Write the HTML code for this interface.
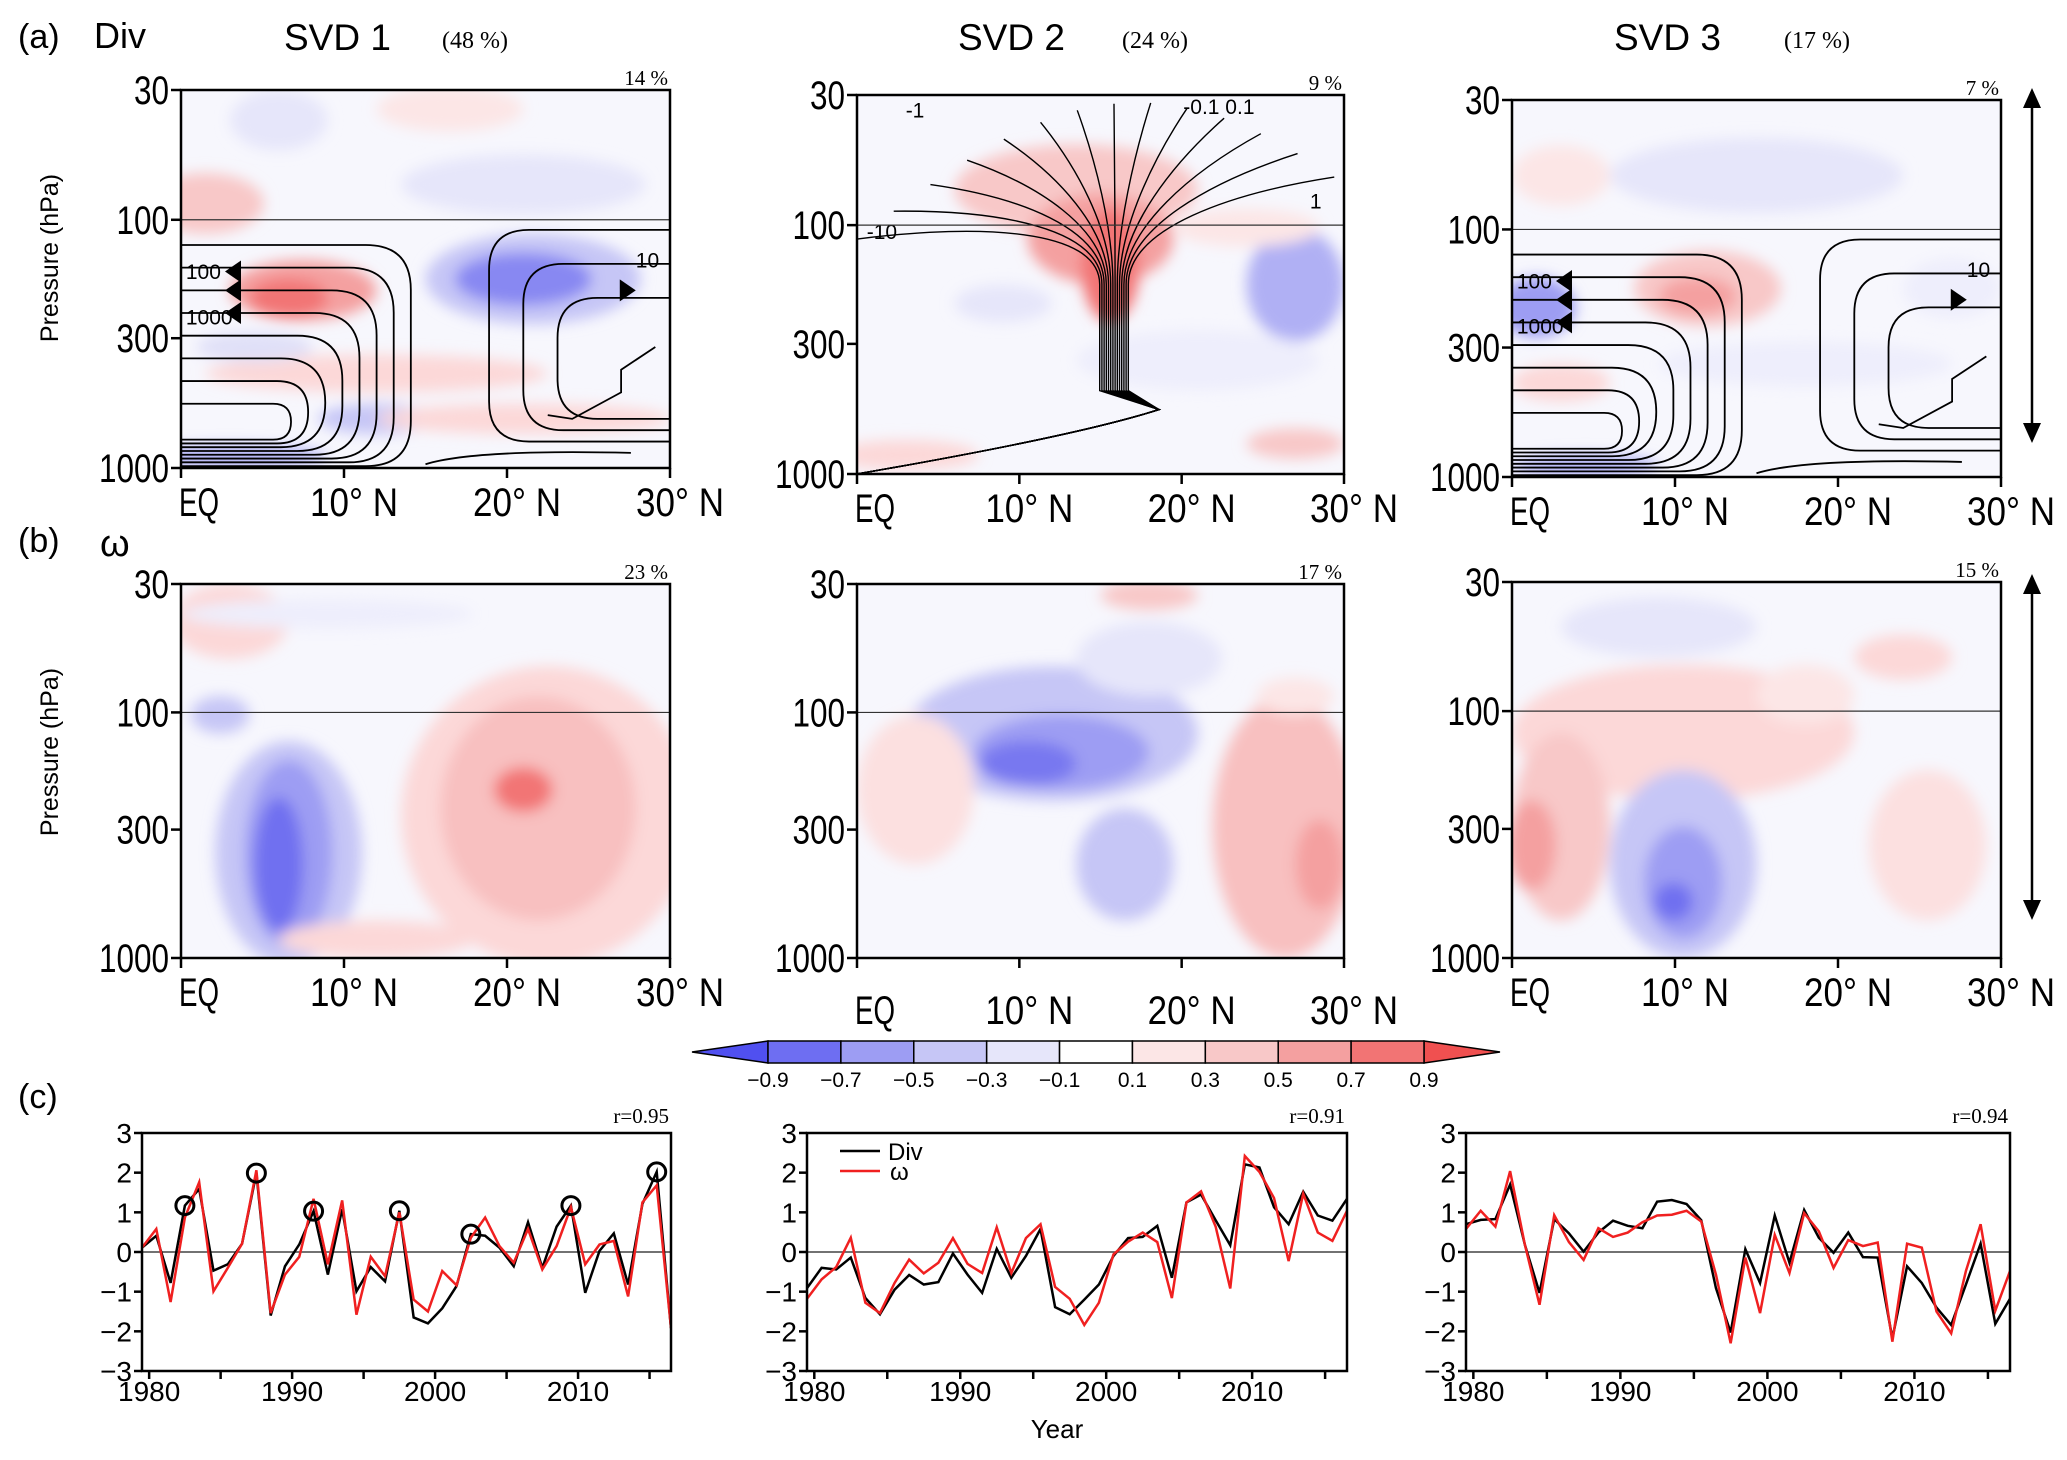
<!DOCTYPE html>
<html><head><meta charset="utf-8"><style>
html,body{margin:0;padding:0;background:#fff;}
svg{display:block;font-family:"Liberation Sans",sans-serif;}
</style></head><body>
<svg id="fig" width="2067" height="1460" viewBox="0 0 2067 1460" xmlns="http://www.w3.org/2000/svg">
<defs>
<filter id="blur" x="-50%" y="-50%" width="200%" height="200%"><feGaussianBlur stdDeviation="7"/></filter>
</defs>
</svg>
<script>
// ---------- time series data (panel c) ----------
const years = [1979,1980,1981,1982,1983,1984,1985,1986,1987,1988,1989,1990,1991,1992,1993,1994,1995,1996,1997,1998,1999,2000,2001,2002,2003,2004,2005,2006,2007,2008,2009,2010,2011,2012,2013,2014,2015,2016];
const div1 = [0.11,0.41,-0.78,1.17,1.59,-0.47,-0.31,0.21,1.99,-1.6,-0.36,0.19,1.03,-0.57,1.08,-0.99,-0.38,-0.74,1.04,-1.65,-1.8,-1.42,-0.86,0.45,0.41,0.11,-0.36,0.75,-0.4,0.64,1.17,-1.03,0.03,0.47,-0.82,1.21,2.02,-1.92];
const omg1 = [0.11,0.58,-1.26,0.87,1.76,-0.99,-0.4,0.21,2.06,-1.54,-0.57,-0.12,1.34,-0.31,1.3,-1.58,-0.12,-0.61,1.0,-1.2,-1.5,-0.48,-0.84,0.36,0.87,0.15,-0.27,0.58,-0.44,0.15,1.13,-0.31,0.19,0.28,-1.12,1.25,1.68,-1.92];
const circles1 = [3,8,12,18,23,30,36];
const div2 = [-0.91,-0.4,-0.44,-0.14,-1.16,-1.57,-0.95,-0.58,-0.82,-0.76,-0.04,-0.57,-1.03,0.08,-0.65,-0.1,0.58,-1.39,-1.57,-1.2,-0.82,-0.1,0.35,0.38,0.66,-0.65,1.25,1.45,0.8,0.17,2.21,2.13,1.13,0.7,1.52,0.92,0.79,1.34];
const omg2 = [-1.18,-0.69,-0.38,0.36,-1.28,-1.54,-0.78,-0.19,-0.54,-0.27,0.35,-0.3,-0.53,0.62,-0.53,0.35,0.7,-0.88,-1.18,-1.84,-1.28,-0.06,0.26,0.49,0.25,-1.16,1.25,1.53,0.64,-0.92,2.42,2.02,1.36,-0.23,1.47,0.49,0.28,1.04];
const div3 = [0.7,0.81,0.83,1.7,0.19,-1.03,0.83,0.47,0.01,0.49,0.79,0.66,0.6,1.27,1.31,1.21,0.8,-0.91,-2.03,0.07,-0.78,0.92,-0.27,1.06,0.36,-0.02,0.49,-0.13,-0.14,-2.18,-0.36,-0.78,-1.4,-1.84,-0.82,0.21,-1.81,-1.18];
const omg3 = [0.58,1.04,0.64,2.04,0.19,-1.33,0.93,0.25,-0.2,0.6,0.38,0.49,0.75,0.92,0.94,1.04,0.77,-0.57,-2.3,-0.14,-1.54,0.43,-0.53,0.98,0.52,-0.4,0.3,0.15,0.24,-2.26,0.21,0.11,-1.5,-2.05,-0.48,0.7,-1.48,-0.48];
const yTicks = [-3,-2,-1,0,1,2,3];
const xTickYears = [1980,1990,2000,2010];
const rValues = ["r=0.95","r=0.91","r=0.94"];
// ---------- colour bar ----------
const cbLevels = ["-0.9","-0.7","-0.5","-0.3","-0.1","0.1","0.3","0.5","0.7","0.9"];
const cbColors = ["#6e6ef2","#9d9df3","#c6c6f6","#e6e6fa","#ffffff","#fce6e6","#f8c8c8","#f4a0a0","#f27474"];
// ---------- contour panel labels ----------
const pTicks = [30,100,300,1000];
const latTicks = ["EQ","10° N","20° N","30° N"];
const pctA = ["14  %","9  %","7  %"];
const pctB = ["23  %","17  %","15  %"];

const svg = document.getElementById('fig');
const NS = "http://www.w3.org/2000/svg";
function el(tag, attrs, parent){const e=document.createElementNS(NS,tag);for(const k in attrs)e.setAttribute(k,attrs[k]);(parent||svg).appendChild(e);return e;}
function txt(s, attrs, parent){const e=el('text',attrs,parent);e.textContent=s;return e;}
function bigTxt(s, attrs, parent){const a=Object.assign({'font-size':40,textLength:s.length*17.5,lengthAdjust:'spacingAndGlyphs'},attrs);return txt(s,a,parent);}

// ---------- panel geometry ----------
const colX = [[181,670],[857,1344],[1512,2001]];
const rowA = [[90,468],[95,474],[100,477]];
const rowB = [[584,958],[584,958],[582,958]];

// blobs: [fx, fy, rx, ry, color]
const blobs = {
 a0:[[0.05,0.3,0.12,0.08,"#f8c8c8"],[0.7,0.25,0.25,0.08,"#e6e6fa"],[0.25,0.53,0.15,0.08,"#f4a0a0"],[0.22,0.55,0.08,0.05,"#f27474"],[0.72,0.5,0.22,0.12,"#c6c6f6"],[0.7,0.5,0.14,0.07,"#8888f2"],[0.2,0.08,0.1,0.08,"#e6e6fa"],[0.4,0.75,0.35,0.05,"#fcd8d8"],[0.4,0.87,0.12,0.04,"#c6c6f6"],[0.7,0.87,0.3,0.04,"#fcd8d8"],[0.1,0.97,0.2,0.03,"#b0b0f4"],[0.55,0.05,0.15,0.06,"#fce6e6"],[0.15,0.68,0.12,0.04,"#e0e0f8"]],
 a1:[[0.45,0.25,0.25,0.12,"#f8c8c8"],[0.5,0.38,0.15,0.12,"#f4a0a0"],[0.52,0.45,0.06,0.15,"#f27474"],[0.9,0.5,0.1,0.15,"#b0b0f4"],[0.3,0.55,0.1,0.05,"#e6e6fa"],[0.7,0.7,0.25,0.08,"#eeeefc"],[0.1,0.95,0.15,0.04,"#fcd8d8"],[0.9,0.92,0.1,0.04,"#f8c8c8"],[0.8,0.35,0.15,0.05,"#fce6e6"]],
 a2:[[0.05,0.55,0.08,0.08,"#9d9df3"],[0.4,0.5,0.15,0.1,"#f8c8c8"],[0.38,0.52,0.08,0.05,"#f4a0a0"],[0.5,0.2,0.3,0.1,"#e6e6fa"],[0.1,0.2,0.1,0.08,"#fce6e6"],[0.6,0.7,0.3,0.06,"#eeeefc"],[0.1,0.75,0.1,0.05,"#fcd8d8"],[0.15,0.97,0.15,0.03,"#b0b0f4"],[0.9,0.5,0.1,0.08,"#eeeefc"]],
 b0:[[0.1,0.1,0.12,0.1,"#fcd8d8"],[0.08,0.35,0.06,0.05,"#c6c6f6"],[0.22,0.72,0.15,0.3,"#c6c6f6"],[0.22,0.72,0.09,0.25,"#9d9df3"],[0.2,0.75,0.05,0.18,"#7070f0"],[0.75,0.62,0.3,0.4,"#fcd8d8"],[0.73,0.6,0.2,0.3,"#f8c0c0"],[0.7,0.55,0.06,0.06,"#f27474"],[0.4,0.95,0.2,0.05,"#fcd8d8"],[0.3,0.08,0.3,0.04,"#eeeefc"]],
 b1:[[0.4,0.4,0.3,0.18,"#c6c6f6"],[0.42,0.45,0.18,0.1,"#9d9df3"],[0.35,0.48,0.1,0.06,"#7878f0"],[0.55,0.75,0.1,0.15,"#c6c6f6"],[0.6,0.2,0.15,0.1,"#e6e6fa"],[0.88,0.65,0.15,0.35,"#f8c0c0"],[0.95,0.75,0.05,0.12,"#f4a0a0"],[0.12,0.55,0.12,0.2,"#fce0e0"],[0.6,0.03,0.1,0.04,"#f8c8c8"],[0.9,0.3,0.08,0.05,"#fce6e6"]],
 b2:[[0.35,0.4,0.35,0.18,"#fcd8d8"],[0.1,0.65,0.1,0.25,"#f8c8c8"],[0.04,0.7,0.05,0.12,"#f4a0a0"],[0.35,0.75,0.15,0.25,"#c6c6f6"],[0.35,0.8,0.08,0.15,"#9d9df3"],[0.33,0.85,0.04,0.05,"#7070f0"],[0.3,0.12,0.2,0.08,"#e6e6fa"],[0.85,0.7,0.12,0.2,"#fce0e0"],[0.8,0.2,0.1,0.06,"#fcd8d8"],[0.6,0.3,0.1,0.08,"#fce6e6"]]
};

function contourPanel(ci, ri, key, pct, streams){
 const [L,R] = colX[ci]; const [T,B] = ri===0?rowA[ci]:rowB[ci];
 const W=R-L, H=B-T;
 const g = el('g',{});
 
 
 const cid='clip'+key;
 const cp=el('clipPath',{id:cid},g); el('rect',{x:L,y:T,width:W,height:H},cp);
 const fill=el('g',{'clip-path':'url(#'+cid+')'},g);
 el('rect',{x:L,y:T,width:W,height:H,fill:'#f7f7fd'},fill);
 const bg=el('g',{filter:'url(#blur)'},fill);
 for(const b of blobs[key]){
   const e=el('ellipse',{cx:L+b[0]*W,cy:T+b[1]*H,rx:b[2]*W,ry:b[3]*H,fill:b[4]},bg);
   
   
 }
 const yP = p => T + Math.log(p/30)/Math.log(1000/30)*H;
 el('line',{x1:L,x2:R,y1:yP(100),y2:yP(100),stroke:'#333','stroke-width':1.2},g);
 if(streams) streams(fill,L,T,W,H);
 el('rect',{x:L,y:T,width:W,height:H,fill:'none',stroke:'#000','stroke-width':2.5},g);
 for(const p of pTicks){
   el('line',{x1:L-10,x2:L,y1:yP(p),y2:yP(p),stroke:'#000','stroke-width':2.5},g);
   const s=String(p);
   const t=bigTxt(s,{x:L-12-s.length*17.5,y:yP(p)+14},g);
   
   
 }
 const ly = (ri===1&&ci===1)?B+66:B+48;
 latTicks.forEach((s,i)=>{
   const x=L+i*W/3;
   el('line',{x1:x,x2:x,y1:B,y2:B+10,stroke:'#000','stroke-width':2.5},g);
   const tl = s.length===2?40:88;
   const t=bigTxt(s,{x:i===0?x-2:x-tl/2+10,y:ly,textLength:tl},g);
   
   
 });
 const pt=txt(pct,{x:R-2,y:T-5,'text-anchor':'end','font-size':21,'font-family':'Liberation Serif, serif'},g);
 
 
}

function cellStreams(fill,L,T,W,H){
 const g=el('g',{fill:'none',stroke:'#000','stroke-width':1.8},fill);
 for(let k=0;k<8;k++){
   const y0=T+H*(0.41+k*0.06), xr=L+W*(0.47-k*0.035), yb=T+H*(0.995-k*0.01);
   const r=Math.min(45,(yb-y0)/2);
   el('path',{d:`M${L},${y0} L${xr-r},${y0} Q${xr},${y0} ${xr},${y0+r} L${xr},${yb-r} Q${xr},${yb} ${xr-r},${yb} L${L},${yb}`},g);
 }
 for(let k=0;k<3;k++){
   const y0=T+H*(0.37+k*0.09), xl=L+W*(0.63+k*0.07), yb=T+H*(0.93-k*0.03);
   const r=40;
   el('path',{d:`M${L+W},${y0} L${xl+r},${y0} Q${xl},${y0} ${xl},${y0+r} L${xl},${yb-r} Q${xl},${yb} ${xl+r},${yb} L${L+W},${yb}`},g);
 }
 el('path',{d:`M${L+W*0.97},${T+H*0.68} L${L+W*0.9},${T+H*0.74} L${L+W*0.9},${T+H*0.8} L${L+W*0.8},${T+H*0.87} L${L+W*0.75},${T+H*0.86}`},g);
 el('path',{d:`M${L+W*0.5},${T+H*0.99} Q${L+W*0.6},${T+H*0.95} ${L+W*0.92},${T+H*0.96}`},g);
 [0.48,0.53,0.59].forEach(a=>{
   el('path',{d:`M${L+W*0.09},${T+H*a} l16,-11 l0,22 z`,fill:'#000',stroke:'none'},fill);
 });
 el('path',{d:`M${L+W*0.93},${T+H*0.53} l-16,-11 l0,22 z`,fill:'#000',stroke:'none'},fill);
 txt('100',{x:L+W*0.01,y:T+H*0.5,'font-size':21},fill);
 txt('1000',{x:L+W*0.01,y:T+H*0.62,'font-size':21},fill);
 txt('10',{x:L+W*0.93,y:T+H*0.47,'font-size':21},fill);
}
function fanStreams(fill,L,T,W,H){
 const g=el('g',{fill:'none',stroke:'#000','stroke-width':1.4},fill);
 const cx=L+W*0.53;
 for(let k=0;k<14;k++){
   const f=k/13;
   const ex=L+W*(0.0+f*0.98), ey=T+H*(0.38-0.36*Math.sin(f*Math.PI*0.85));
   const sx=cx+(k-7)*2.2;
   el('path',{d:`M${L},${T+H} Q${L+W*0.45},${T+H*0.9} ${L+W*0.62},${T+H*0.83} L${sx},${T+H*0.78} L${sx},${T+H*0.5} C${sx},${T+H*0.35} ${(sx+ex)/2},${(T+H*0.3+ey)/2} ${ex},${ey}`},g);
 }
 txt('-1',{x:L+W*0.1,y:T+H*0.06,'font-size':21},fill);
 txt('-0.1 0.1',{x:L+W*0.67,y:T+H*0.05,'font-size':21},fill);
 txt('-10',{x:L+W*0.02,y:T+H*0.38,'font-size':21},fill);
 txt('1',{x:L+W*0.93,y:T+H*0.3,'font-size':21},fill);
}

contourPanel(0,0,'a0',pctA[0],cellStreams);
contourPanel(1,0,'a1',pctA[1],fanStreams);
contourPanel(2,0,'a2',pctA[2],cellStreams);
contourPanel(0,1,'b0',pctB[0]);
contourPanel(1,1,'b1',pctB[1]);
contourPanel(2,1,'b2',pctB[2]);

// titles
function label(s,a,name){const t=txt(s,a);return t;}
label('(a)',{x:18,y:48,'font-size':34},'panel-a-label');
label('Div',{x:94,y:48,'font-size':36},'div-row-label');
label('(b)',{x:18,y:552,'font-size':34},'panel-b-label');
label('ω',{x:100,y:556,'font-size':38},'omega-row-label');
label('(c)',{x:18,y:1108,'font-size':34},'panel-c-label');
label('SVD 1',{x:284,y:50,'font-size':37},'svd1-title');
label('(48  %)',{x:442,y:48,'font-size':24,'font-family':'Liberation Serif, serif'},'svd1-percent');
label('SVD 2',{x:958,y:50,'font-size':37},'svd2-title');
label('(24  %)',{x:1122,y:48,'font-size':24,'font-family':'Liberation Serif, serif'},'svd2-percent');
label('SVD 3',{x:1614,y:50,'font-size':37},'svd3-title');
label('(17  %)',{x:1784,y:48,'font-size':24,'font-family':'Liberation Serif, serif'},'svd3-percent');
label('Pressure (hPa)',{x:0,y:0,'font-size':25,transform:'translate(58,258) rotate(-90)','text-anchor':'middle'},'y-axis-title-a');
label('Pressure (hPa)',{x:0,y:0,'font-size':25,transform:'translate(58,752) rotate(-90)','text-anchor':'middle'},'y-axis-title-b');

// double arrows
function dArrow(y1,y2,name){
 const g=el('g',{});
 el('line',{x1:2032,x2:2032,y1:y1+12,y2:y2-12,stroke:'#000','stroke-width':2.5},g);
 el('path',{d:`M2032,${y1} l-9,20 l18,0 z`,fill:'#000'},g);
 el('path',{d:`M2032,${y2} l-9,-20 l18,0 z`,fill:'#000'},g);
}
dArrow(88,443,'height-range-arrow-a');
dArrow(574,920,'height-range-arrow-b');

// colour bar
(function(){
 const g=el('g',{});
 const x0=768,x1=1424,y0=1041,y1=1063,step=(x1-x0)/(cbLevels.length-1);
 el('path',{d:`M${x0},${y0} L${x0-76},${(y0+y1)/2} L${x0},${y1} z`,fill:'#5050f0',stroke:'#000','stroke-width':1.5},g);
 el('path',{d:`M${x1},${y0} L${x1+76},${(y0+y1)/2} L${x1},${y1} z`,fill:'#f05050',stroke:'#000','stroke-width':1.5},g);
 cbColors.forEach((c,i)=>{
   const r=el('rect',{x:x0+i*step,y:y0,width:step,height:y1-y0,fill:c,stroke:'#000','stroke-width':1.5},g);
   
   
 });
 cbLevels.forEach((s,i)=>{
   const t=txt(s.replace('-','−'),{x:x0+i*step,y:y1+24,'text-anchor':'middle','font-size':21},g);
   
   
 });
})();

// time series
const tsX=[[142,671],[807,1347],[1466,2010]];
const tsT=1133, tsB=1371;
function tsPanel(i,dv,om,circ){
 const [L,R]=tsX[i];
 const g=el('g',{});
 const xs=y=>L+(y-1979)/37*(R-L);
 const xt=y=>L+(y-1979.5)/37*(R-L);
 const ys=v=>tsT+(3-v)/6*(tsB-tsT);
 const cid='tsclip'+i; const cp=el('clipPath',{id:cid},g); el('rect',{x:L,y:tsT,width:R-L,height:tsB-tsT},cp);
 el('line',{x1:L,x2:R,y1:ys(0),y2:ys(0),stroke:'#444','stroke-width':1.5},g);
 const pg=el('g',{'clip-path':'url(#'+cid+')'},g);
 const d1=el('polyline',{points:years.map((y,k)=>xs(y)+','+ys(dv[k])).join(' '),fill:'none',stroke:'#000','stroke-width':2.5},pg);
 
 const d2=el('polyline',{points:years.map((y,k)=>xs(y)+','+ys(om[k])).join(' '),fill:'none',stroke:'#f02020','stroke-width':2.5},pg);
 
 if(circ) circ.forEach(k=>{
   const c=el('circle',{cx:xs(years[k]),cy:ys(dv[k]),r:9,fill:'none',stroke:'#000','stroke-width':3},g);
   
 });
 el('rect',{x:L,y:tsT,width:R-L,height:tsB-tsT,fill:'none',stroke:'#000','stroke-width':2.5},g);
 yTicks.forEach(v=>{
   el('line',{x1:L-8,x2:L,y1:ys(v),y2:ys(v),stroke:'#000','stroke-width':2.5},g);
   const t=txt(String(v).replace('-','−'),{x:L-10,y:ys(v)+10,'text-anchor':'end','font-size':28},g);
   
 });
 for(let y=1980;y<=2015;y+=5){ el('line',{x1:xt(y),x2:xt(y),y1:tsB,y2:tsB+8,stroke:'#000','stroke-width':2.5},g); }
 xTickYears.forEach(y=>{
   const t=txt(String(y),{x:xt(y),y:tsB+30,'text-anchor':'middle','font-size':28},g);
   
 });
 const r=txt(rValues[i],{x:R-2,y:tsT-10,'text-anchor':'end','font-size':21,'font-family':'Liberation Serif, serif'},g);
 
}
tsPanel(0,div1,omg1,circles1);
tsPanel(1,div2,omg2,null);
tsPanel(2,div3,omg3,null);
label('Year',{x:1057,y:1438,'text-anchor':'middle','font-size':26},'x-axis-title');
// legend
(function(){
 const g=el('g',{});
 el('line',{x1:840,x2:880,y1:1151,y2:1151,stroke:'#000','stroke-width':2.5},g);
 txt('Div',{x:888,y:1160,'font-size':24},g);
 el('line',{x1:840,x2:880,y1:1171,y2:1171,stroke:'#f02020','stroke-width':2.5},g);
 txt('ω',{x:890,y:1180,'font-size':24},g);
})();
</script>
</body></html>
